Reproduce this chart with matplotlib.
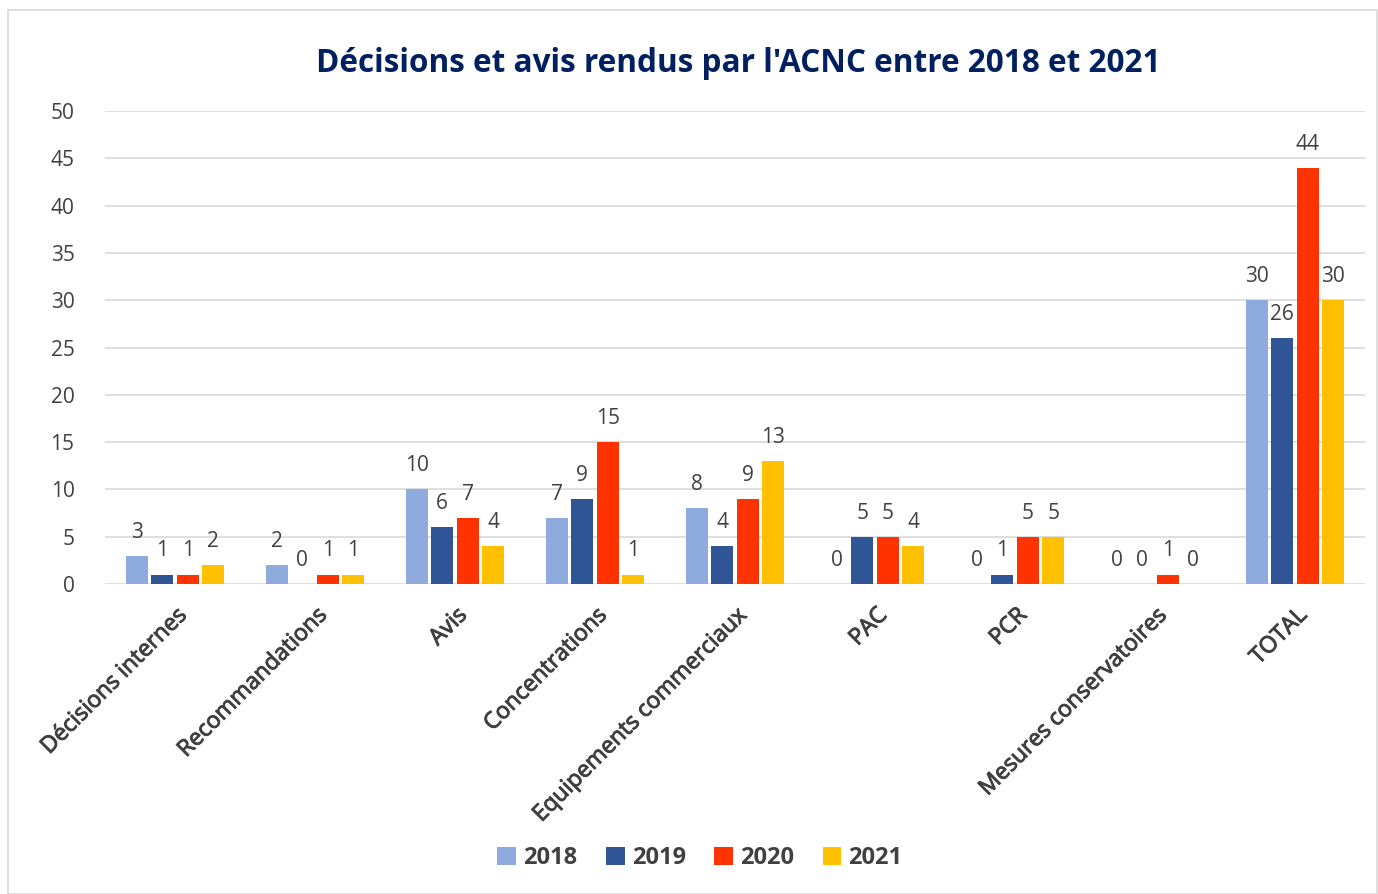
import matplotlib.pyplot as plt
import matplotlib.patheffects as pe
import numpy as np
from matplotlib.patches import Rectangle

categories = ["Décisions internes", "Recommandations", "Avis", "Concentrations",
              "Equipements commerciaux", "PAC", "PCR", "Mesures conservatoires", "TOTAL"]
years = ["2018", "2019", "2020", "2021"]
v2018 = [3, 2, 10, 7, 8, 0, 0, 0, 30]
v2019 = [1, 0, 6, 9, 4, 5, 1, 0, 26]
v2020 = [1, 1, 7, 15, 9, 5, 5, 1, 44]
v2021 = [2, 1, 4, 1, 13, 4, 5, 0, 30]
series = [v2018, v2019, v2020, v2021]
colors = ["#8FAADC", "#2F5597", "#FF3300", "#FFC000"]

plt.rcParams['font.family'] = ['Open Sans', 'DejaVu Sans']
txt = "#404040"

fig = plt.figure(figsize=(13.78, 8.94), dpi=100)
ax = fig.add_axes([105 / 1378, 1 - 584 / 894, 1260 / 1378, (584 - 111) / 894])

x = np.arange(len(categories))
step = 0.182
width = 0.157
for i, (vals, c) in enumerate(zip(series, colors)):
    pos = x + (i - 1.5) * step
    ax.bar(pos, vals, width, color=c, label=years[i], zorder=3)
    for p, v in zip(pos, vals):
        ax.annotate(str(v), (p, v), xytext=(0, 17), textcoords="offset points",
                    ha="center", va="center", fontsize=15, color=txt)

ax.set_xlim(-0.5, len(categories) - 0.5)
ax.set_ylim(0, 50)
ax.set_yticks(range(0, 51, 5))
ax.yaxis.grid(True, color="#D9D9D9", linewidth=1.2, zorder=0)
for s in ax.spines.values():
    s.set_visible(False)
ax.tick_params(axis="y", length=0, pad=22, labelsize=15, labelcolor=txt)
ax.tick_params(axis="x", length=0, pad=14, labelsize=16.5, labelcolor=txt)
ax.set_xticks(x)
ax.set_xticklabels(categories, rotation=45, ha="right", rotation_mode="anchor")
# semi-bold look for the category labels
for lab in ax.get_xticklabels():
    lab.set_path_effects([pe.withStroke(linewidth=0.7, foreground=txt)])

fig.text(0.536, 1 - 63 / 894, "Décisions et avis rendus par l'ACNC entre 2018 et 2021",
         ha="center", va="center", fontsize=22.7, fontweight="bold", color="#002060")

leg = fig.legend(loc="center", bbox_to_anchor=(700 / 1378, 1 - 858 / 894), ncol=4,
                 frameon=False, fontsize=17, handlelength=0.8, handleheight=0.8,
                 handletextpad=0.3, columnspacing=1.2)
for t in leg.get_texts():
    t.set_color(txt)
    t.set_fontweight("bold")

fig.patches.append(Rectangle((8 / 1378, 0), 1 - 8 / 1378 - 0.001, 1 - 10 / 894,
                             transform=fig.transFigure, fill=False,
                             edgecolor="#D9D9D9", linewidth=1.2))

fig.savefig("out.png", dpi=100)
